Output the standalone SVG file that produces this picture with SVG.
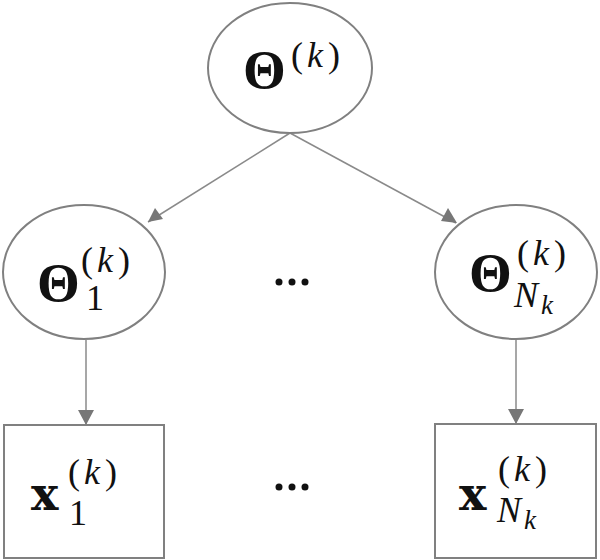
<svg xmlns="http://www.w3.org/2000/svg" width="600" height="560" viewBox="0 0 600 560">
<style>
.n{fill:#fff;stroke:#808080;stroke-width:2}
.e{stroke:#8a8a8a;stroke-width:1.5;fill:none}
.b{font-family:"Liberation Serif","DejaVu Serif",serif;font-weight:bold;font-size:55px;fill:#111}
.bx{font-family:"DejaVu Serif","Liberation Serif",serif;font-weight:bold;font-size:46px;fill:#111}
.s{font-family:"Liberation Serif","DejaVu Serif",serif;font-size:36px;fill:#111}
.i{font-style:italic}
.h{fill:#777}
.dot{fill:#111}
</style>
<g id="edges">
<line class="e" x1="290" y1="133" x2="148" y2="222"/>
<path class="h" d="M148,222 L155,208 L163,219 z"/>
<line class="e" x1="290" y1="133" x2="456" y2="223"/>
<path class="h" d="M457,223 L441,221 L448,208 z"/>
<line class="e" x1="86" y1="340" x2="86" y2="424"/>
<path class="h" d="M86,425 L78,410 L94,410 z"/>
<line class="e" x1="516" y1="338" x2="516" y2="423"/>
<path class="h" d="M516,424 L508,409 L524,409 z"/>
</g>
<g id="theta">
<ellipse class="n" cx="290" cy="68" rx="82" ry="65"/>
<text class="b" x="243" y="88">Θ</text>
<text class="s" x="291" y="67"><tspan>(</tspan><tspan class="i" dx="4">k</tspan><tspan dx="5">)</tspan></text>
</g>
<g id="theta1">
<ellipse class="n" cx="84" cy="272" rx="81" ry="67"/>
<text class="b" x="37" y="301">Θ</text>
<text class="s" x="81" y="272"><tspan>(</tspan><tspan class="i" dx="4">k</tspan><tspan dx="5">)</tspan></text>
<text class="s" x="86" y="310">1</text>
</g>
<g id="thetaN">
<ellipse class="n" cx="516" cy="272" rx="81" ry="67"/>
<text class="b" x="469" y="291">Θ</text>
<text class="s" x="517" y="265"><tspan>(</tspan><tspan class="i" dx="4">k</tspan><tspan dx="5">)</tspan></text>
<text class="s i" x="514" y="307">N<tspan font-size="27px" dx="3" dy="7">k</tspan></text>
</g>
<g id="x1">
<rect class="n" x="4" y="425" width="160" height="133"/>
<text class="bx" x="31" y="510">x</text>
<text class="s" x="68" y="484"><tspan>(</tspan><tspan class="i" dx="4">k</tspan><tspan dx="5">)</tspan></text>
<text class="s" x="69" y="525">1</text>
</g>
<g id="xN">
<rect class="n" x="435" y="424" width="161" height="134"/>
<text class="bx" x="459" y="510">x</text>
<text class="s" x="498" y="481"><tspan>(</tspan><tspan class="i" dx="4">k</tspan><tspan dx="5">)</tspan></text>
<text class="s i" x="497" y="522">N<tspan font-size="27px" dx="3" dy="7">k</tspan></text>
</g>
<g id="dots1"><circle class="dot" cx="279" cy="282" r="3.5"/><circle class="dot" cx="292" cy="282" r="3.5"/><circle class="dot" cx="305" cy="282" r="3.5"/></g>
<g id="dots2"><circle class="dot" cx="279" cy="487" r="3.5"/><circle class="dot" cx="292" cy="487" r="3.5"/><circle class="dot" cx="305" cy="487" r="3.5"/></g>
</svg>
